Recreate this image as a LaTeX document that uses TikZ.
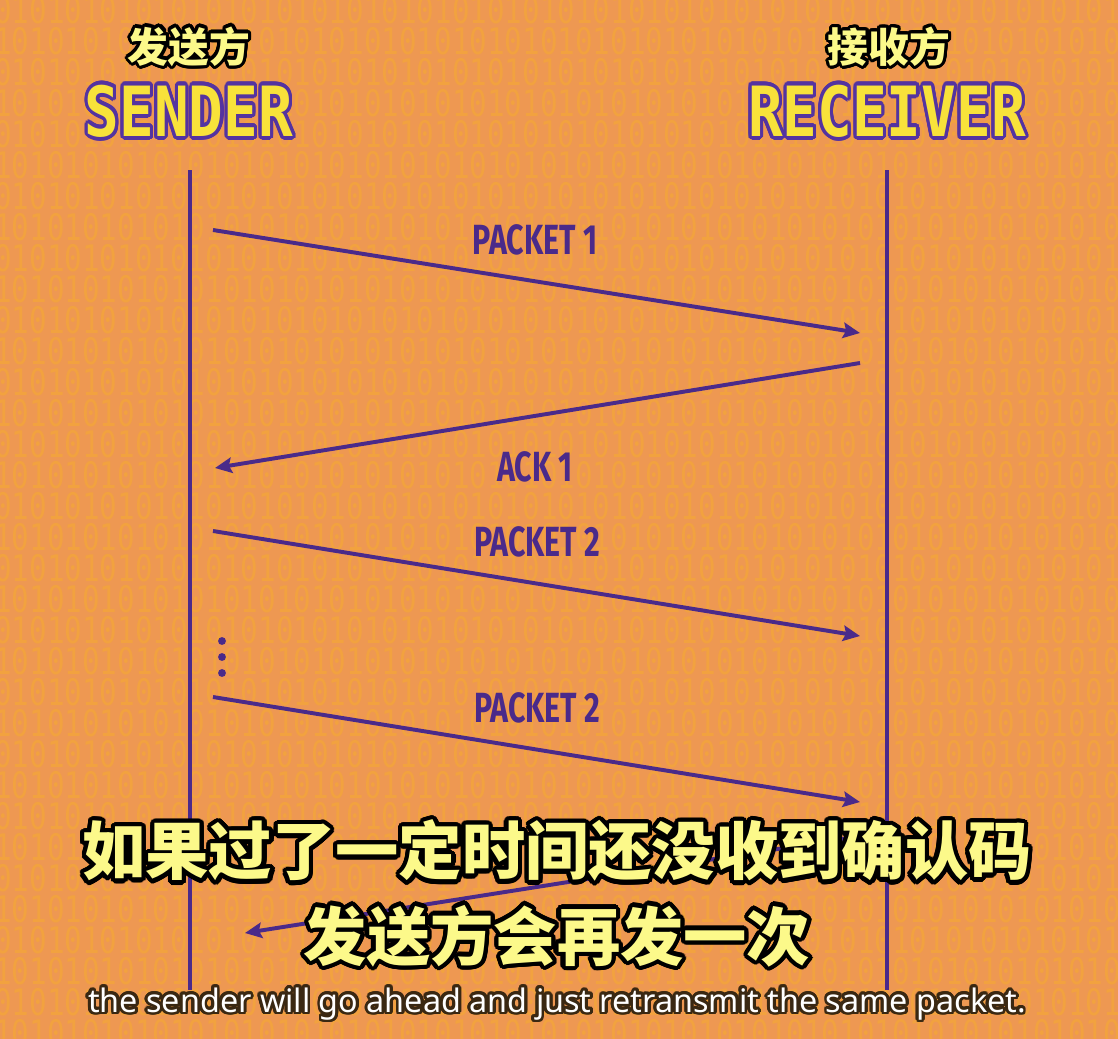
\documentclass[tikz,border=0pt]{standalone}
\usepackage{fontspec}
\usepackage[copies]{contour}
\usepackage{graphicx}
\usetikzlibrary{arrows.meta,positioning}
\setmainfont{Fira Sans}
\newfontfamily\cjk{Noto Sans CJK SC}
\newfontfamily\pktfont[FakeStretch=0.72]{Fira Sans}
\newfontfamily\pixfont{DejaVu Sans Mono}
\newfontfamily\bitfont[FakeStretch=0.8]{DejaVu Sans Mono}
\newfontfamily\capfont{Noto Sans}
\definecolor{bgorange}{HTML}{EE9852}
\definecolor{bitorange}{HTML}{F2A23F}
\definecolor{wire}{HTML}{4A2A8A}
\definecolor{titleedge}{HTML}{5433A0}
\definecolor{titleyel}{HTML}{F8E23A}
\definecolor{subyel}{HTML}{FCF98A}
\definecolor{capedge}{HTML}{3A2812}
\contournumber{24}
\def\bitsA{0101010101010101010101010101010101010101010101010101010101010101}
\def\bitsB{1010101010101010101010101010101010101010101010101010101010101010}

\begin{document}
\begin{tikzpicture}[
  x=0.025cm, y=-0.025cm,
  bits/.style={anchor=west,inner sep=0pt,text=bitorange,
               font=\bitfont\fontsize{26}{26}\selectfont},
  life/.style={draw=wire,line width=2.8pt},
  msg/.style={draw=wire,line width=2.8pt,
              -{Stealth[length=12pt,width=11pt,inset=2pt]}},
  pkt/.style={inner sep=0pt,text=wire,
              font=\pktfont\bfseries\fontsize{30}{30}\selectfont},
  dot/.style={circle,fill=wire,inner sep=0pt,minimum size=5.6pt},
  cntitle/.style={inner sep=0pt,text=subyel,
                  font=\cjk\bfseries\fontsize{29}{29}\selectfont},
  pixtitle/.style={inner sep=0pt,text=titleyel,
                   font=\pixfont\bfseries\fontsize{41}{41}\selectfont},
  subcn/.style={inner sep=0pt,text=subyel,
                font=\cjk\bfseries\fontsize{45}{45}\selectfont},
  suben/.style={inner sep=0pt,text=white,
                font=\capfont\fontsize{23}{23}\selectfont}
]
\useasboundingbox (0,0) rectangle (1118,1039);
\fill[bgorange] (0,0) rectangle (1118,1039);
\foreach \r in {0,...,33} {
  \pgfmathsetmacro\yy{10+31*\r}
  \node[bits] (bits\r) at (-6,\yy) {\ifodd\r\relax\bitsB\else\bitsA\fi};
}

\coordinate (stop) at (190,170);
\coordinate (sbot) at (190,990);
\coordinate (rtop) at (887,170);
\coordinate (rbot) at (887,990);
\draw[life] (stop) -- (sbot);
\draw[life] (rtop) -- (rbot);

\coordinate (s1) at (213,230);
\coordinate (r1) at (860,333);
\coordinate (r2) at (860,363);
\coordinate (s2) at (215,468);
\coordinate (s3) at (213,531);
\coordinate (r3) at (860,636);
\coordinate (s4) at (213,697);
\coordinate (r4) at (860,802);
\coordinate (r5) at (860,836);
\coordinate (s5) at (245,933);
\draw[msg] (s1) -- (r1);
\draw[msg] (r2) -- (s2);
\draw[msg] (s3) -- (r3);
\draw[msg] (s4) -- (r4);
\draw[msg] (r5) -- (s5);

\node[pkt] (pk1) at (535,240) {PACKET 1};
\node[pkt] (ack1) at (535,467) {ACK 1};
\node[pkt] (pk2) at (537,542) {PACKET 2};
\node[pkt] (pk2b) at (537,708) {PACKET 2};
\foreach \i/\y in {1/641,2/657,3/673}
  \node[dot] (dot\i) at (222,\y) {};

\node[cntitle] (sendcn) at (189,48) {\contourlength{2.2pt}\contour{black}{发送方}};
\node[cntitle] (recvcn) at (889,48) {\contourlength{2.2pt}\contour{black}{接收方}};
\node[pixtitle] (sender) at (189,113)
  {\contourlength{2.2pt}\scalebox{1}[1.2]{\contour{titleedge}{SENDER}}};
\node[pixtitle] (receiver) at (887,113)
  {\contourlength{2.2pt}\scalebox{1}[1.2]{\contour{titleedge}{RECEIVER}}};

\node[subcn] (sub1) at (557,853)
  {\contourlength{3pt}\contour{black}{如果过了一定时间还没收到确认码}};
\node[subcn] (sub2) at (557,938)
  {\contourlength{3pt}\contour{black}{发送方会再发一次}};
\node[suben] (suben) at (557,1005)
  {\contourlength{2pt}\contour{capedge}{the sender will go ahead and just retransmit the same packet.}};
\end{tikzpicture}
\end{document}
